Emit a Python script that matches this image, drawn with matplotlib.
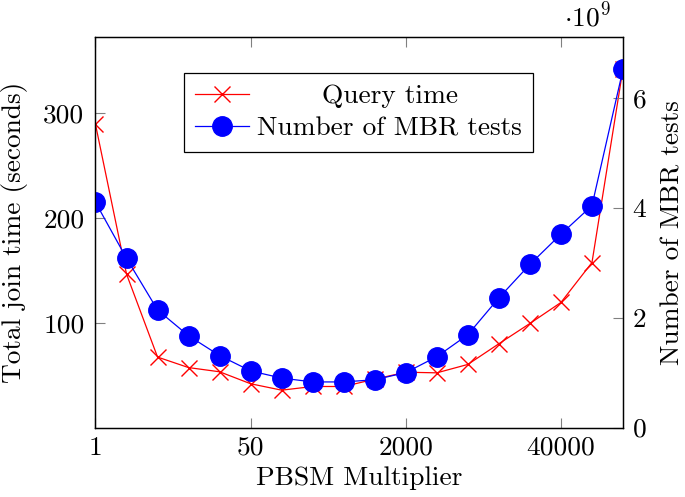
import numpy as np
import matplotlib.pyplot as plt

# values
multiplier_labels = ["1", "50", "2000", "40000"]
query_time = [289.5, 147, 68, 58, 54, 42.6, 36.5, 40, 40, 47, 53.6, 53, 61, 80.7, 100, 120, 158, 342.6]
mbr_tests = [4.10, 3.08, 2.14, 1.67, 1.31, 1.03, 0.90, 0.83, 0.83, 0.87, 1.00, 1.29, 1.69, 2.36, 2.97, 3.52, 4.04, 6.52]

plt.rcParams['font.family'] = 'cmr10'
plt.rcParams['mathtext.fontset'] = 'cm'
plt.rcParams['axes.unicode_minus'] = False
plt.rcParams['font.size'] = 19.7

x = np.arange(len(query_time))

fig = plt.figure(figsize=(6.85, 4.97), dpi=100)
ax = fig.add_axes([0.1394, 0.1398, 0.7701, 0.7858])
ax2 = ax.twinx()

l1, = ax.plot(x, query_time, color='#ff0000', lw=0.9, marker='x', ms=11, mew=1.0, label='Query time')
l2, = ax2.plot(x, mbr_tests, color='#0000ff', lw=0.9, marker='o', ms=14, label='Number of MBR tests')

ax.set_xlim(0, len(x) - 1)
ax.set_ylim(0.95, 372.7)
ax2.set_ylim(0, 7.11)

ax.set_xticks(x[::5])
ax.set_xticklabels(multiplier_labels)
ax.set_yticks([100, 200, 300])
ax2.set_yticks([0, 2, 4, 6])

ax.tick_params(axis='both', direction='in', length=7, width=0.8, color='0.5')
ax.tick_params(axis='x', top=True, pad=6)
ax.tick_params(axis='y', pad=8)
ax2.tick_params(axis='y', direction='in', length=7, width=0.8, color='0.5', pad=7)

for a in (ax, ax2):
    for s in a.spines.values():
        s.set_linewidth(0.9)
        s.set_color('black')

ax.set_xlabel('PBSM Multiplier', labelpad=5)
ax.set_ylabel('Total join time (seconds)', labelpad=11)
ax2.set_ylabel('Number of MBR tests', labelpad=10.5)
ax2.text(0.977, 1.015, r'$\cdot 10^9$', transform=ax2.transAxes, ha='right', va='bottom', fontsize=19.7)

leg = ax2.legend([l1, l2], ['Query time', 'Number of MBR tests'], loc='upper left',
                 bbox_to_anchor=(0.167, 0.907), borderaxespad=0, fancybox=False,
                 edgecolor='black', framealpha=1, handlelength=2.0, handletextpad=0.3,
                 borderpad=0.4, labelspacing=0.3)
leg.get_frame().set_linewidth(0.9)

# centre the shorter label inside the legend like pgfplots does
fig.canvas.draw()
r = fig.canvas.get_renderer()
widths = [t.get_window_extent(r).width for t in leg.get_texts()]
rows = leg._legend_handle_box.get_children()[0].get_children()
rows[0].sep = rows[0].sep + (max(widths) - widths[0]) / 2 * 72 / fig.dpi

fig.savefig('out.png', dpi=100)
